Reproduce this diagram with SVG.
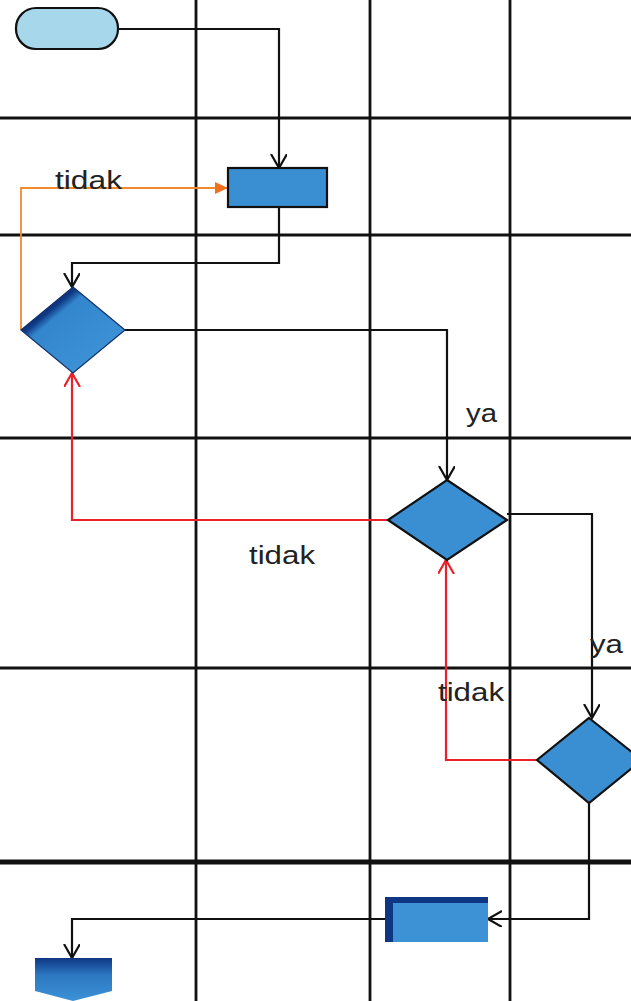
<svg xmlns="http://www.w3.org/2000/svg" width="631" height="1001" viewBox="0 0 631 1001">
<style>
.grid{stroke:#111;stroke-width:2.8;fill:none}
.thick{stroke:#111;stroke-width:5;fill:none}
.c{stroke:#111;stroke-width:2.2;fill:none}
.red{stroke:#e8222a;stroke-width:2.2;fill:none}
.org{stroke:#f08a2a;stroke-width:1.8;fill:none}
.node{stroke:#111;stroke-width:2.2}
.lbl{font-family:"Liberation Sans",Arial,sans-serif;font-size:26px;fill:#222}
</style>
<defs>
<marker id="ab" markerUnits="userSpaceOnUse" markerWidth="20" markerHeight="20" refX="14" refY="8" orient="auto">
<path d="M0,0 L14,8 L0,16" fill="none" stroke="#111" stroke-width="2.2"/>
</marker>
<marker id="ar" markerUnits="userSpaceOnUse" markerWidth="20" markerHeight="20" refX="14" refY="8" orient="auto">
<path d="M0,0 L14,8 L0,16" fill="none" stroke="#e8222a" stroke-width="2.2"/>
</marker>
<marker id="ao" markerUnits="userSpaceOnUse" markerWidth="16" markerHeight="16" refX="13" refY="7" orient="auto">
<path d="M0,1 L13,7 L0,13 Z" fill="#f07020"/>
</marker>
<linearGradient id="bev1" x1="0.2" y1="0.2" x2="0.8" y2="0.8">
<stop offset="0" stop-color="#0a2460"/>
<stop offset="0.13" stop-color="#0f3a86"/>
<stop offset="0.24" stop-color="#3386cc"/>
<stop offset="1" stop-color="#3d92d6"/>
</linearGradient>
<linearGradient id="bev3" x1="0" y1="0" x2="0" y2="1">
<stop offset="0" stop-color="#0f3683"/>
<stop offset="0.4" stop-color="#2c78c2"/>
<stop offset="1" stop-color="#3d92d6"/>
</linearGradient>
</defs>
<rect width="631" height="1001" fill="#fff"/>
<g id="grid">
<line class="grid" x1="196" y1="0" x2="196" y2="1001"/>
<line class="grid" x1="370" y1="0" x2="370" y2="1001"/>
<line class="grid" x1="510" y1="0" x2="510" y2="1001"/>
<line class="grid" x1="0" y1="118" x2="631" y2="118"/>
<line class="grid" x1="0" y1="235" x2="631" y2="235"/>
<line class="grid" x1="0" y1="438" x2="631" y2="438"/>
<line class="grid" x1="0" y1="668" x2="631" y2="668"/>
<line class="thick" x1="0" y1="862" x2="631" y2="862"/>
</g>
<g id="connectors">
<polyline class="c" points="118,29 279,29 279,168" marker-end="url(#ab)"/>
<polyline class="c" points="279,207 279,263 72,263 72,287" marker-end="url(#ab)"/>
<polyline class="org" points="21,330 21,188 228,188" marker-end="url(#ao)"/>
<polyline class="c" points="125,330 447,330 447,480" marker-end="url(#ab)"/>
<polyline class="red" points="388,520 72,520 72,373" marker-end="url(#ar)"/>
<polyline class="c" points="507,514 592,514 592,718" marker-end="url(#ab)"/>
<polyline class="red" points="537,760 446,760 446,560" marker-end="url(#ar)"/>
<polyline class="c" points="589,803 589,919 488,919" marker-end="url(#ab)"/>
<polyline class="c" points="385,919 72,919 72,958" marker-end="url(#ab)"/>
<text class="lbl" x="55" y="189" textLength="67" lengthAdjust="spacingAndGlyphs">tidak</text>
<text class="lbl" x="466" y="422" textLength="31" lengthAdjust="spacingAndGlyphs">ya</text>
<text class="lbl" x="249" y="564" textLength="66" lengthAdjust="spacingAndGlyphs">tidak</text>
<text class="lbl" x="590" y="653" textLength="33" lengthAdjust="spacingAndGlyphs">ya</text>
<text class="lbl" x="438" y="701" textLength="66" lengthAdjust="spacingAndGlyphs">tidak</text>
</g>
<g id="start">
<rect class="node" x="16" y="8" width="102" height="41" rx="20" fill="#a6d7ea"/>
</g>
<g id="process1">
<rect class="node" x="228" y="168" width="99" height="39" fill="#3a8fd3"/>
</g>
<g id="decision1">
<polygon points="73,287 125,330 73,373 21,330" fill="url(#bev1)" stroke="#12306a" stroke-width="1.2"/>
</g>
<g id="decision2">
<polygon class="node" points="447,480 507,520 447,560 388,520" fill="#3a8fd3"/>
</g>
<g id="decision3">
<polygon class="node" points="589,718 642,760 589,803 537,760" fill="#3a8fd3"/>
</g>
<g id="process2">
<rect x="385" y="897" width="103" height="45" fill="#0f3683"/>
<rect x="393" y="903" width="95" height="39" fill="#3d92d6"/>
</g>
<g id="end">
<polygon points="35,958 112,958 112,991 73,1001 35,991" fill="url(#bev3)"/>
</g>
</svg>
